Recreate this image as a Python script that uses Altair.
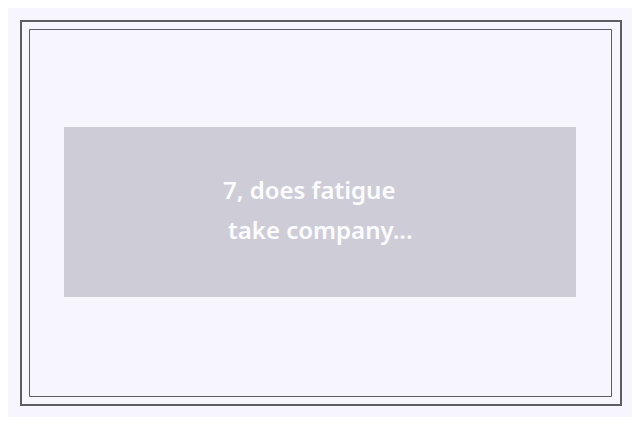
import altair as alt
import pandas as pd

# frame boxes (left, top, right, bottom) in page pixels
box_names = ["outer", "inner", "card"]
box_x1 = [21, 29.5, 64]
box_x2 = [621, 611.5, 576]
box_y1 = [21, 29.5, 127]
box_y2 = [405, 396.5, 297]

text_lines = ["7, does fatigue", "take company..."]
text_x = [223, 228]
text_y = [199, 239]

boxes = pd.DataFrame({"name": box_names, "x1": box_x1, "x2": box_x2, "y1": box_y1, "y2": box_y2})
texts = pd.DataFrame({"t": text_lines, "x": text_x, "y": text_y})

xs = alt.Scale(domain=[0, 640], range=[-8, 632])
ys = alt.Scale(domain=[0, 425], range=[-8, 417])

def enc():
    return dict(
        x=alt.X("x1:Q", scale=xs, axis=None),
        x2="x2:Q",
        y=alt.Y("y1:Q", scale=ys, axis=None),
        y2="y2:Q",
    )

outer = alt.Chart(boxes).transform_filter("datum.name == 'outer'").mark_rect(
    fill=None, stroke="#5e5d64", strokeWidth=2
).encode(**enc())
inner = alt.Chart(boxes).transform_filter("datum.name == 'inner'").mark_rect(
    fill=None, stroke="#5e5d64", strokeWidth=1
).encode(**enc())
card = alt.Chart(boxes).transform_filter("datum.name == 'card'").mark_rect(
    fill="#cecdd7", stroke=None
).encode(**enc())

label = alt.Chart(texts).mark_text(
    align="left", baseline="alphabetic", font="Noto Sans", fontWeight=600,
    fontSize=24, color="#fcfcff"
).encode(
    x=alt.X("x:Q", scale=xs, axis=None),
    y=alt.Y("y:Q", scale=ys, axis=None),
    text="t:N",
)

chart = alt.layer(card, outer, inner, label).properties(
    width=624, height=409, padding=0, autosize=alt.AutoSizeParams(type="none"),
    background="#f7f6fe"
).configure_view(stroke=None)

chart.save("out.html", embed_options={"renderer": "svg", "actions": False})
